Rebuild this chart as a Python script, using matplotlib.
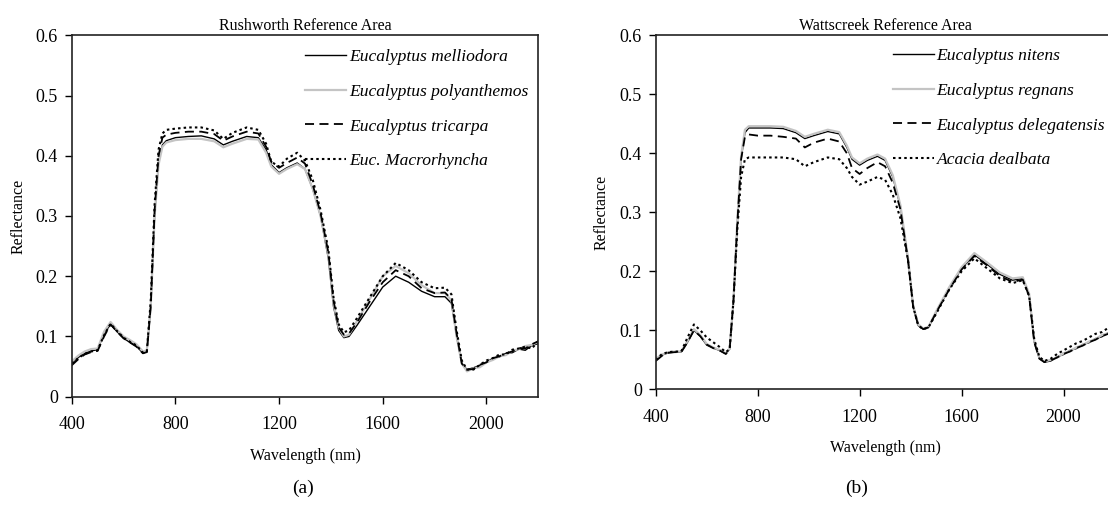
import matplotlib.pyplot as plt

plt.rcParams['font.family'] = 'Liberation Serif'

# wavelength knots (nm) shared by all spectra
wl = [400, 425, 450, 475, 500, 525, 550, 575, 600, 625, 650, 675, 690, 705, 720, 735,
      750, 765, 800, 850, 900, 950, 985, 1020, 1075, 1120, 1150, 1170, 1200, 1230, 1270,
      1300, 1330, 1360, 1390, 1410, 1430, 1450, 1470, 1500, 1550, 1600, 1650, 1700, 1750,
      1800, 1840, 1865, 1885, 1905, 1925, 1950, 1975, 2000, 2025, 2050, 2075, 2100, 2125,
      2150, 2175, 2200]

# Rushworth reference area
melliodora = [.055, .065, .072, .076, .078, .105, .120, .108, .097, .090, .084, .072, .075, .150, .300, .390,
              .418, .425, .430, .432, .433, .428, .418, .424, .432, .430, .410, .385, .372, .380, .388,
              .378, .345, .300, .230, .150, .110, .098, .100, .118, .150, .182, .200, .190, .175,
              .166, .166, .155, .100, .055, .045, .048, .052, .057, .064, .066, .072, .073, .079,
              .077, .085, .088]
polyanthemos = [.058, .068, .075, .079, .080, .108, .124, .111, .100, .094, .087, .075, .077, .150, .300, .385,
                .415, .422, .426, .428, .428, .424, .414, .420, .428, .427, .405, .382, .370, .378, .386,
                .378, .345, .300, .235, .155, .115, .100, .103, .125, .162, .200, .217, .205, .185,
                .172, .172, .160, .100, .055, .042, .047, .049, .057, .061, .067, .069, .076, .079,
                .084, .086, .091]
tricarpa = [.052, .062, .070, .074, .076, .100, .120, .108, .097, .090, .083, .072, .074, .150, .310, .400,
            .430, .435, .438, .440, .440, .436, .425, .432, .440, .437, .415, .390, .380, .388, .397,
            .387, .352, .305, .240, .160, .115, .103, .105, .123, .158, .190, .210, .200, .180,
            .172, .173, .162, .105, .055, .045, .046, .053, .057, .064, .067, .072, .075, .081,
            .080, .087, .092]
macrorhyncha = [.055, .064, .071, .075, .077, .102, .121, .109, .098, .091, .085, .073, .075, .160, .320, .410,
                .437, .443, .445, .447, .447, .442, .428, .438, .447, .443, .420, .390, .382, .395, .405,
                .392, .360, .310, .245, .165, .120, .107, .110, .130, .165, .200, .222, .210, .190,
                .180, .181, .170, .110, .060, .045, .045, .053, .060, .064, .070, .070, .078, .080,
                .083, .080, .092]

# Wattscreek reference area
nitens = [.050, .058, .062, .063, .063, .080, .100, .090, .075, .070, .066, .060, .068, .150, .280, .390,
          .435, .443, .443, .443, .442, .435, .425, .430, .437, .433, .410, .390, .380, .388, .395,
          .388, .360, .310, .220, .140, .108, .102, .105, .130, .170, .205, .228, .212, .195,
          .185, .188, .160, .080, .052, .046, .048, .055, .059, .066, .069, .076, .079, .086,
          .089, .096, .100]
regnans = [.052, .059, .063, .064, .064, .082, .102, .092, .077, .071, .067, .061, .069, .150, .285, .395,
           .440, .446, .446, .446, .445, .438, .428, .433, .440, .436, .413, .393, .383, .391, .398,
           .391, .363, .312, .222, .142, .110, .103, .106, .132, .172, .207, .231, .215, .198,
           .188, .190, .162, .082, .053, .047, .050, .054, .061, .065, .071, .075, .081, .085,
           .092, .095, .103]
delegatensis = [.048, .057, .062, .063, .063, .080, .100, .090, .076, .070, .066, .060, .068, .150, .280, .390,
                .428, .432, .430, .430, .428, .425, .410, .418, .425, .420, .400, .375, .365, .375, .385,
                .378, .350, .305, .218, .140, .108, .102, .105, .130, .168, .203, .226, .210, .192,
                .182, .186, .158, .080, .052, .046, .049, .054, .060, .064, .070, .074, .080, .084,
                .090, .094, .098]
dealbata = [.050, .060, .063, .064, .064, .088, .110, .100, .088, .080, .072, .063, .068, .150, .270, .360,
            .390, .393, .393, .393, .393, .390, .378, .385, .393, .390, .375, .360, .347, .352, .360,
            .355, .330, .290, .218, .140, .108, .102, .105, .128, .168, .200, .222, .205, .188,
            .180, .185, .158, .085, .055, .048, .052, .060, .066, .072, .078, .082, .088, .094,
            .097, .104, .108]

panels = [
    ('Rushworth Reference Area', '(a)',
     ['Eucalyptus melliodora', 'Eucalyptus polyanthemos', 'Eucalyptus tricarpa', 'Euc. Macrorhyncha'],
     [melliodora, polyanthemos, tricarpa, macrorhyncha]),
    ('Wattscreek Reference Area', '(b)',
     ['Eucalyptus nitens', 'Eucalyptus regnans', 'Eucalyptus delegatensis', 'Acacia dealbata'],
     [nitens, regnans, delegatensis, dealbata]),
]

styles = [dict(color='black', lw=1.0, ls='-'),
          dict(color='#c4c4c4', lw=1.6, ls='-'),
          dict(color='black', lw=1.3, ls=(0, (5, 3))),
          dict(color='black', lw=1.5, ls=(0, (1.2, 1.5)))]

fig = plt.figure(figsize=(11.08, 5.07), dpi=100)
positions = [[0.0647, 0.2176, 0.4211, 0.7128], [0.5918, 0.2321, 0.4141, 0.6982]]
label_y = [-0.142, -0.143]
label_x = [-0.097, -0.100]
leg_anchor = [(0.500, 0.962), (0.517, 0.964)]
letter_x = [0.2735, 0.7735]

for i, (title, letter, names, series) in enumerate(panels):
    ax = fig.add_axes(positions[i])
    for name, vals, st in zip(names, series, styles):
        ax.plot(wl, vals, label=name, **st)
    ax.set_xlim(400, 2200)
    ax.set_ylim(0, 0.6)
    ax.set_xticks([400, 800, 1200, 1600, 2000])
    ax.set_yticks([0, 0.1, 0.2, 0.3, 0.4, 0.5, 0.6])
    ax.set_yticklabels(['0', '0.1', '0.2', '0.3', '0.4', '0.5', '0.6'])
    ax.tick_params(direction='out', length=5, width=1, labelsize=13)
    ax.tick_params(axis='x', pad=9)
    ax.tick_params(axis='y', pad=5)
    for sp in ax.spines.values():
        sp.set_linewidth(1.2)
        sp.set_color('#222222')
    ax.set_title(title, fontsize=11.5, pad=4)
    ax.set_xlabel('Wavelength (nm)', fontsize=11.5)
    ax.set_ylabel('Reflectance', fontsize=11.5)
    ax.xaxis.set_label_coords(0.5, label_y[i])
    ax.yaxis.set_label_coords(label_x[i], 0.5)
    ax.legend(loc='upper left', bbox_to_anchor=leg_anchor[i], frameon=False,
              prop=dict(family='Liberation Serif', style='italic', size=12.6),
              handlelength=2.35, handletextpad=0.15, labelspacing=1.05,
              borderpad=0, borderaxespad=0)
    fig.text(letter_x[i], 0.037, letter, fontsize=14, ha='center', va='center')

fig.savefig('out.png', dpi=100)
